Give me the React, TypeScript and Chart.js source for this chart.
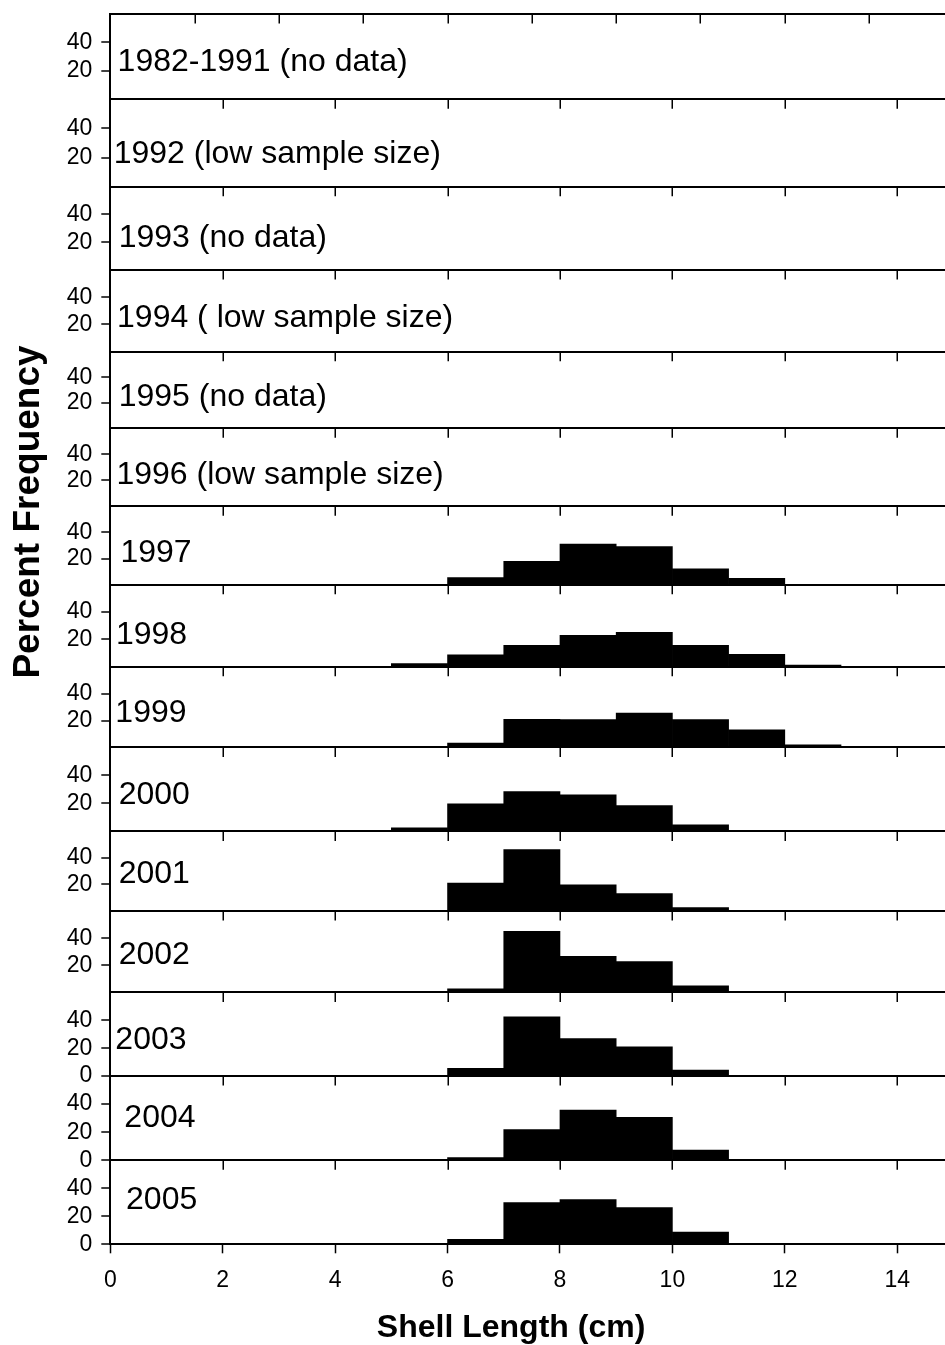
import React, { useEffect, useRef } from 'react';
import { Chart, registerables } from 'chart.js';

Chart.register(...registerables);

// ---------- data ----------
const binCenters = [5.5, 6.5, 7.5, 8.5, 9.5, 10.5, 11.5, 12.5];
const xTickValues = [0, 2, 4, 6, 8, 10, 12, 14];
const topPanelTickValues = [1.5, 3, 4.5, 6, 7.5, 9, 10.5, 12, 13.5];
const yTickValues = [0, 20, 40];

const panelLabels = [
  '1982-1991 (no data)',
  '1992 (low sample size)',
  '1993 (no data)',
  '1994 ( low sample size)',
  '1995 (no data)',
  '1996 (low sample size)',
  '1997',
  '1998',
  '1999',
  '2000',
  '2001',
  '2002',
  '2003',
  '2004',
  '2005',
];

const freq1997 = [null, 5.4, 17.8, 31.1, 29.1, 12.2, 4.8, null];
const freq1998 = [2.2, 8.6, 15.6, 22.9, 25.1, 15.6, 9.0, 1.2];
const freq1999 = [null, 3.2, 21.0, 20.8, 25.5, 20.8, 13.1, 2.0];
const freq2000 = [2.6, 19.8, 28.6, 26.2, 18.6, 4.8, null, null];
const freq2001 = [null, 21.1, 46.3, 19.8, 13.1, 2.5, null, null];
const freq2002 = [null, 2.7, 45.1, 26.7, 22.8, 4.9, null, null];
const freq2003 = [null, 5.5, 42.6, 26.8, 21.0, 4.3, null, null];
const freq2004 = [null, 1.9, 21.8, 35.8, 30.6, 7.3, null, null];
const freq2005 = [null, 3.6, 29.8, 31.9, 26.2, 8.8, null, null];

const panelSeries: (Array<number | null> | null)[] = [
  null, null, null, null, null, null,
  freq1997, freq1998, freq1999, freq2000, freq2001, freq2002, freq2003, freq2004, freq2005,
];

// ---------- layout (not data) ----------
const X_MAX = 14.85;
const Y_MAX = 60;
const panelWeights = [85.3, 87.4, 83.3, 81.7, 76.6, 78, 78.4, 82, 80.8, 84, 79.5, 81.5, 83.5, 84.3, 84];
const zeroLabelPanels = [12, 13, 14];
const labelXUnits = [0.13, 0.06, 0.15, 0.12, 0.15, 0.11, 0.18, 0.10, 0.09, 0.15, 0.15, 0.15, 0.09, 0.25, 0.28];
const labelYUnits = [19.9, 16.5, 16.8, 18.4, 17.5, 17.2, 17.6, 16.6, 19.2, 19.6, 21.4, 21, 19.2, 23.9, 25];

const FONT = "'Liberation Sans', Arial, Helvetica, sans-serif";

export default function App() {
  const ref = useRef<HTMLCanvasElement>(null);

  useEffect(() => {
    const canvas = ref.current;
    if (!canvas) return;

    const scales: any = {
      x: {
        type: 'linear',
        position: 'bottom',
        min: 0,
        max: X_MAX,
        offset: false,
        afterBuildTicks: (s: any) => {
          s.ticks = xTickValues.map((v) => ({ value: v }));
        },
        afterFit: (s: any) => {
          s.height = 100.7;
          s.paddingLeft = 0;
          s.paddingRight = 0;
        },
        ticks: {
          autoSkip: false,
          maxRotation: 0,
          font: { family: FONT, size: 23 },
          color: '#000',
          padding: 14,
        },
        grid: {
          offset: false,
          drawOnChartArea: false,
          tickLength: 9,
          tickColor: '#000',
          tickWidth: 1.5,
        },
        border: { display: true, color: '#000', width: 2 },
      },
    };

    panelLabels.forEach((_, i) => {
      const showZero = zeroLabelPanels.includes(i);
      const isTop = i === 0;
      scales['y' + i] = {
        type: 'linear',
        position: 'left',
        stack: 'panels',
        stackWeight: panelWeights[i],
        weight: 100 - i,
        min: 0,
        max: Y_MAX,
        offset: false,
        afterBuildTicks: (s: any) => {
          const vals = isTop ? [...yTickValues, Y_MAX] : yTickValues;
          s.ticks = vals.map((v) => ({ value: v }));
        },
        afterFit: (s: any) => {
          s.width = 110.3;
          s.paddingTop = 0;
          s.paddingBottom = 0;
        },
        ticks: {
          autoSkip: false,
          font: { family: FONT, size: 23 },
          color: '#000',
          padding: 9,
          callback: (v: number) => {
            if (v === Y_MAX) return '';
            if (v === 0 && !showZero) return '';
            return String(v);
          },
        },
        grid: {
          drawOnChartArea: true,
          tickLength: 9,
          lineWidth: 2,
          tickWidth: 1.5,
          color: (ctx: any) => {
            const v = ctx.tick ? ctx.tick.value : null;
            return v === 0 || v === Y_MAX ? '#000' : 'rgba(0,0,0,0)';
          },
          tickColor: (ctx: any) => {
            const v = ctx.tick ? ctx.tick.value : null;
            if (v === 20 || v === 40) return '#000';
            if (v === 0 && showZero) return '#000';
            return 'rgba(0,0,0,0)';
          },
        },
        border: { display: true, color: '#000', width: 2 },
      };
    });

    const datasets: any[] = [];
    panelSeries.forEach((series, i) => {
      if (!series) return;
      const pts: { x: number; y: number }[] = [];
      series.forEach((v, k) => {
        if (v !== null) pts.push({ x: binCenters[k], y: v });
      });
      datasets.push({
        label: panelLabels[i],
        data: pts,
        xAxisID: 'x',
        yAxisID: 'y' + i,
        backgroundColor: '#000',
        borderWidth: 0,
        barPercentage: 1,
        categoryPercentage: 1,
        grouped: false,
      });
    });

    const decor = {
      id: 'panelDecor',
      afterDraw(chart: any) {
        const ctx = chart.ctx;
        const xs = chart.scales.x;
        const area = chart.chartArea;
        ctx.save();
        // tick marks along the top edge of each panel, pointing down
        ctx.strokeStyle = '#000';
        ctx.lineWidth = 1.5;
        panelLabels.forEach((_, i) => {
          const ys = chart.scales['y' + i];
          const top = ys.getPixelForValue(Y_MAX);
          const vals = i === 0 ? topPanelTickValues : xTickValues.filter((v) => v > 0);
          vals.forEach((v) => {
            const px = Math.round(xs.getPixelForValue(v)) + 0.25;
            ctx.beginPath();
            ctx.moveTo(px, top);
            ctx.lineTo(px, top + 9.5);
            ctx.stroke();
          });
        });
        // panel labels
        ctx.fillStyle = '#000';
        ctx.font = `32px ${FONT}`;
        ctx.textAlign = 'left';
        ctx.textBaseline = 'alphabetic';
        panelLabels.forEach((label, i) => {
          const ys = chart.scales['y' + i];
          ctx.fillText(label, xs.getPixelForValue(labelXUnits[i]), ys.getPixelForValue(labelYUnits[i]));
        });
        // axis titles
        ctx.font = `bold 32px ${FONT}`;
        ctx.textAlign = 'center';
        ctx.fillText('Shell Length (cm)', xs.getPixelForValue(7.13), xs.top + 93);
        ctx.translate(39, area.top + 498);
        ctx.rotate(-Math.PI / 2);
        ctx.font = `bold 37px ${FONT}`;
        ctx.fillText('Percent Frequency', 0, 0);
        ctx.restore();
      },
    };

    const chart = new Chart(canvas, {
      type: 'bar',
      data: { datasets },
      options: {
        responsive: false,
        maintainAspectRatio: false,
        devicePixelRatio: 1,
        animation: false,
        events: [],
        layout: { padding: { left: 0, right: 0, top: 14, bottom: 0 } },
        plugins: {
          legend: { display: false },
          tooltip: { enabled: false },
          title: { display: false },
        },
        scales,
      } as any,
      plugins: [decor],
    });

    return () => {
      chart.destroy();
    };
  }, []);

  return (
    <div style={{ position: 'absolute', left: 0, top: 0, width: 945, height: 1345, background: '#fff' }}>
      <canvas ref={ref} width={945} height={1345} style={{ width: 945, height: 1345, display: 'block' }} />
    </div>
  );
}
